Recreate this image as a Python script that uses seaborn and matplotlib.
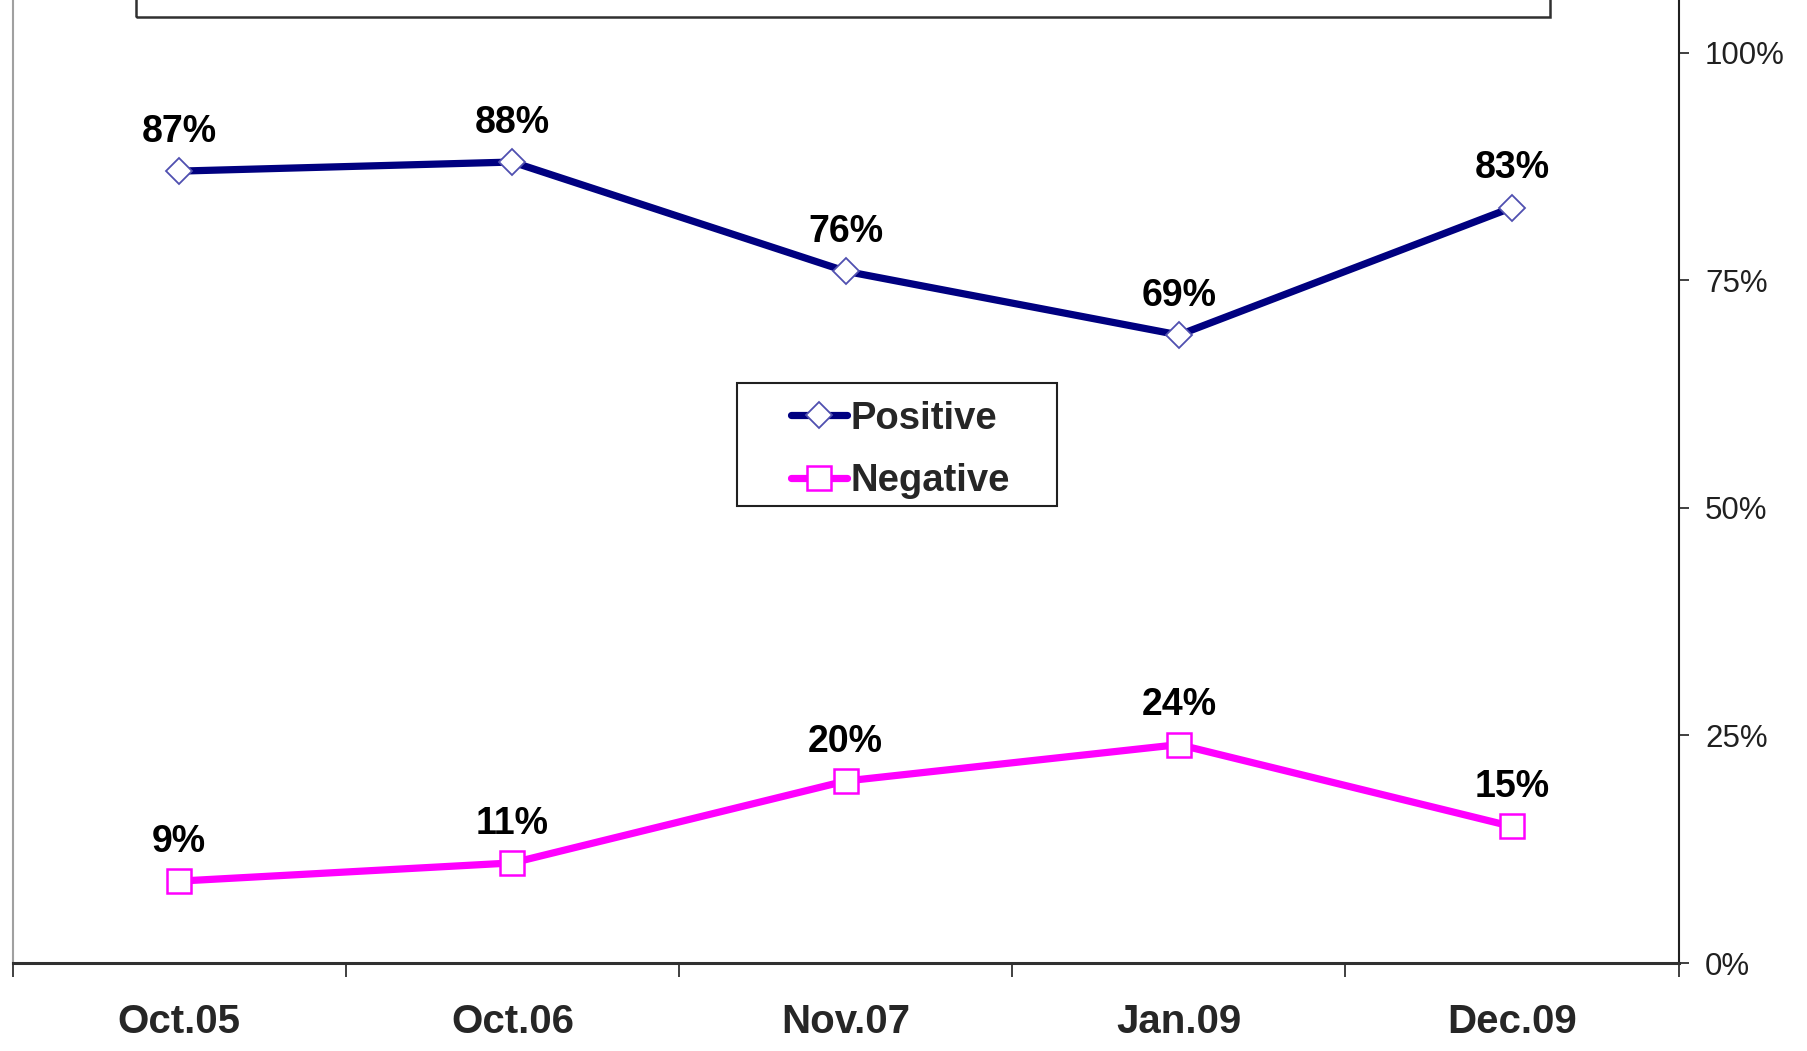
import matplotlib
matplotlib.use("Agg")
import matplotlib.pyplot as plt
import matplotlib.patches as mpatches
from matplotlib.ticker import FuncFormatter, FixedLocator
import seaborn as sns
import numpy as np
import pandas as pd

categories = ["Oct.05", "Oct.06", "Nov.07", "Jan.09", "Dec.09"]
positive = [87, 88, 76, 69, 83]
negative = [9, 11, 20, 24, 15]
series_names = ["Positive", "Negative"]
yticks = [0, 25, 50, 75, 100]

sns.set_theme(style="white")
plt.rcParams['font.family'] = ['Liberation Sans', 'DejaVu Sans']

fig = plt.figure(figsize=(18.07, 10.51), dpi=100)
ax = fig.add_axes([0.007, 0.0837, 0.922, 0.9163])

xpos = np.arange(len(categories))
df = pd.DataFrame({"x": np.concatenate([xpos, xpos]),
                   "value": positive + negative,
                   "series": [series_names[0]] * len(positive) + [series_names[1]] * len(negative)})

colors = {"Positive": "#000080", "Negative": "#FF00FF"}
edge = {"Positive": "#5050B0", "Negative": "#FF00FF"}
mk = {"Positive": "D", "Negative": "s"}
ms = {"Positive": 13, "Negative": 17.5}
mew = {"Positive": 1.3, "Negative": 1.8}

handles = []
for name in series_names:
    sub = df[df["series"] == name]
    sns.lineplot(data=sub, x="x", y="value", ax=ax, color=colors[name], linewidth=5.2,
                 marker=mk[name], markersize=ms[name], markerfacecolor="white",
                 markeredgecolor=edge[name], markeredgewidth=mew[name], zorder=3,
                 solid_capstyle="round")
    line = ax.lines[-1]
    handles.append(line)
    for xi, v in zip(sub["x"], sub["value"]):
        ax.annotate(f"{v}%", (xi, v), xytext=(0, 21), textcoords="offset points",
                    ha="center", va="baseline", fontsize=27, fontweight="bold", color="black")

ax.set_xlim(-0.5, len(categories) - 0.5)
ax.set_ylim(0, 105.8)
ax.set_xlabel("")
ax.set_ylabel("")

# x ticks at category boundaries, labels at centers
ax.xaxis.set_major_locator(FixedLocator(np.arange(-0.5, len(categories), 1.0)))
ax.xaxis.set_minor_locator(FixedLocator(xpos))
ax.set_xticklabels([], minor=False)
ax.set_xticklabels(categories, minor=True)
ax.tick_params(axis="x", which="major", direction="out", length=10, width=1.2, color="#202020", bottom=True)
ax.tick_params(axis="x", which="minor", length=0, pad=29, labelsize=29)
for lbl in ax.get_xticklabels(minor=True):
    lbl.set_fontweight("bold")

ax.yaxis.tick_right()
ax.set_yticks(yticks)
ax.yaxis.set_major_formatter(FuncFormatter(lambda v, p: f"{v:.0f}%"))
ax.tick_params(axis="y", which="major", direction="out", length=7, width=1.2, color="#202020",
               right=True, left=False, pad=12, labelsize=22.5, labelcolor="#202020")

ax.spines["top"].set_visible(False)
ax.spines["left"].set_color("#a0a0a0")
ax.spines["left"].set_linewidth(1.5)
ax.spines["bottom"].set_color("#303030")
ax.spines["bottom"].set_linewidth(2.2)
ax.spines["right"].set_color("#202020")
ax.spines["right"].set_linewidth(1.5)

# legend (contents) without its own frame; frame drawn as a box
leg = ax.legend(handles=handles, labels=series_names, loc="upper left",
                bbox_to_anchor=(0.4669, 0.584), frameon=False,
                fontsize=27.5, handlelength=1.47, handletextpad=0.1, borderpad=0,
                labelspacing=0.7, borderaxespad=0, numpoints=1)
for t in leg.get_texts():
    t.set_fontweight("bold")
legbox = mpatches.Rectangle((0.4348, 0.4746), 0.192, 0.1277, transform=ax.transAxes,
                            fill=True, facecolor="white", edgecolor="#202020", linewidth=1.5,
                            zorder=4)
ax.add_patch(legbox)
leg.set_zorder(5)

# cropped title frame at the top
rect = mpatches.Rectangle((0.075, 0.984), 0.783, 0.1, transform=fig.transFigure,
                          fill=False, edgecolor="#303030", linewidth=1.8, clip_on=False)
fig.patches.append(rect)

fig.savefig("out.png", dpi=100, facecolor="white")
